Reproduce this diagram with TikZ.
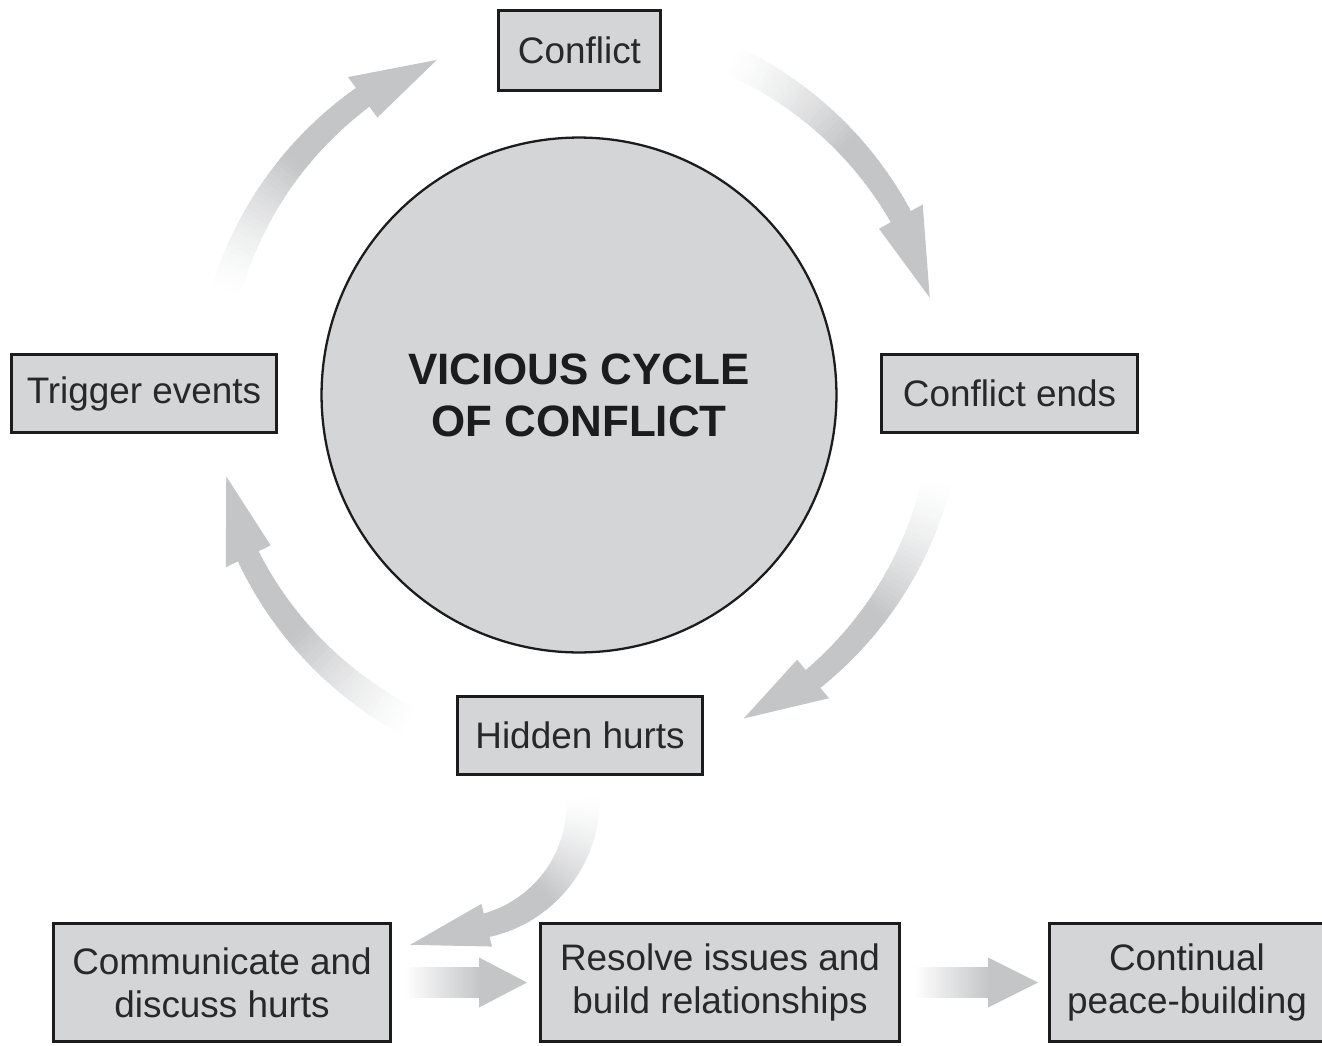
\documentclass[tikz,border=0pt]{standalone}
\usepackage{fontspec}
\setmainfont{Liberation Sans}
\usetikzlibrary{calc}
\definecolor{arrowgray}{RGB}{196,197,199}
\definecolor{boxfill}{RGB}{212,213,215}
\definecolor{linecol}{RGB}{28,28,28}
\definecolor{textcol}{RGB}{40,40,42}

% curved arrow fading from white at its tail; drawn around the current origin
% #1 radius, #2 tail angle, #3 head-base angle, #4 tip angle,
% #5 tail width, #6 shaft width at head, #7 head half-width, #8 tip radius
\newcommand{\fadearc}[8]{%
  \foreach \i in {0,...,47}{%
    \pgfmathsetmacro\angA{#2+(#3-#2)*\i/48}%
    \pgfmathsetmacro\angB{#2+(#3-#2)*(\i+1.5)/48}%
    \pgfmathsetmacro\wA{(#5+(#6-#5)*\i/48)/2}%
    \pgfmathsetmacro\wB{(#5+(#6-#5)*(\i+1.5)/48)/2}%
    \pgfmathsetmacro\frc{100*min(1,(\i+0.5)/48/0.62)^1.4}%
    \fill[arrowgray!\frc!white]
      ({(#1-\wA)*cos(\angA)},{(#1-\wA)*sin(\angA)}) --
      ({(#1+\wA)*cos(\angA)},{(#1+\wA)*sin(\angA)}) --
      ({(#1+\wB)*cos(\angB)},{(#1+\wB)*sin(\angB)}) --
      ({(#1-\wB)*cos(\angB)},{(#1-\wB)*sin(\angB)}) -- cycle;
  }%
  \fill[arrowgray]
    ({(#1-#7)*cos(#3)},{(#1-#7)*sin(#3)}) --
    ({(#8)*cos(#4)},{(#8)*sin(#4)}) --
    ({(#1+#7)*cos(#3)},{(#1+#7)*sin(#3)}) -- cycle;
}

\begin{document}
\begin{tikzpicture}[x=0.02cm,y=-0.02cm,
  box/.style={draw=linecol, line width=1.93pt, fill=boxfill, text=textcol,
    align=center, inner sep=0pt,
    font=\fontsize{21}{24.4}\selectfont},
  hub/.style={circle, draw=linecol, line width=1.3pt, fill=boxfill,
    text=linecol, align=center, inner sep=0pt, minimum size=10.3cm,
    font=\fontsize{25}{29.5}\selectfont\bfseries}]
\useasboundingbox (0,0) rectangle (1322,1045);
\clip (0,0) rectangle (1322,1045);

% nodes
\node[hub] (circ) at (579,395) {VICIOUS CYCLE\\OF CONFLICT};
\node[box, minimum width=3.232cm, minimum height=1.592cm] (conflict) at (579.5,50.5) {Conflict};
\node[box, minimum width=5.292cm, minimum height=1.552cm] (trigger) at (144,393.5) {Trigger events};
\node[box, minimum width=5.112cm, minimum height=1.552cm] (ends) at (1009.5,393.5) {Conflict ends};
\node[box, minimum width=4.892cm, minimum height=1.552cm] (hidden) at (580,735.5) {Hidden hurts};
\node[box, minimum width=6.732cm, minimum height=2.352cm] (comm) at (222,982.5) {Communicate and\\discuss hurts};
\node[box, minimum width=7.172cm, minimum height=2.352cm] (resolve) at (720,982.5) {Resolve issues and\\build relationships};
\node[box, minimum width=5.492cm, minimum height=2.352cm] (cont) at (1187,982.5) {Continual\\peace-building};

% cycle arrows around the hub
\coordinate (cc) at (circ.center);
\begin{scope}[shift={(cc)}]
  \fadearc{368}{-66}{-29}{-15.5}{30}{23}{25}{364}   % conflict -> ends
  \fadearc{368}{13}{50.5}{63}{30}{23}{25}{363}      % ends -> hidden
  \fadearc{368}{117}{154}{167}{30}{23}{25}{362}     % hidden -> trigger
  \fadearc{368}{196}{234}{247}{30}{23}{25}{364}     % trigger -> conflict
\end{scope}

% hidden hurts -> communicate
\coordinate (hc) at ($(hidden.south)+(-124,26)$);
\begin{scope}[shift={(hc)}]
  \fadearc{127}{-3}{76}{107.8}{34}{24}{22}{150}
\end{scope}

% straight arrows
\fill[left color=white, right color=arrowgray]
  ($(comm.east)+(13,-15)$) rectangle ($(resolve.west)+(-59,15)$);
\fill[arrowgray] ($(resolve.west)+(-60,-25)$) -- ($(resolve.west)+(-12,0)$) -- ($(resolve.west)+(-60,25)$) -- cycle;
\fill[left color=white, right color=arrowgray]
  ($(resolve.east)+(13,-15)$) rectangle ($(cont.west)+(-59,15)$);
\fill[arrowgray] ($(cont.west)+(-60,-25)$) -- ($(cont.west)+(-10,0)$) -- ($(cont.west)+(-60,25)$) -- cycle;
\end{tikzpicture}
\end{document}
